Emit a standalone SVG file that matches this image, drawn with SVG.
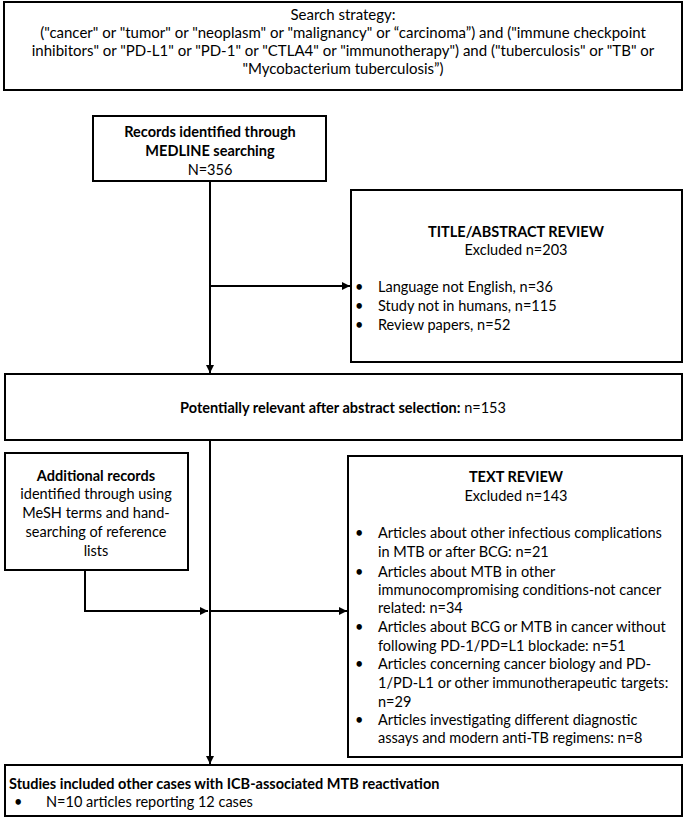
<svg xmlns="http://www.w3.org/2000/svg" width="685" height="818" viewBox="0 0 685 818">
<style>
.box{fill:#fff;stroke:#000;stroke-width:2}
text{font-family:Lato,"Liberation Sans",sans-serif;font-size:14.5px;fill:#000}
.s{font-size:15px}
.c{text-anchor:middle}
.b{font-weight:bold}
.ln{fill:none;stroke:#000;stroke-width:2}
</style>
<defs>
<marker id="ah" viewBox="0 0 10 10" refX="10" refY="5" markerWidth="9" markerHeight="8" markerUnits="userSpaceOnUse" orient="auto">
<path d="M0,0 L10,5 L0,10 z" fill="#000"/>
</marker>
</defs>
<rect width="685" height="818" fill="#fff"/>
<g id="connectors">
<line class="ln" x1="210" y1="181" x2="210" y2="373" marker-end="url(#ah)"/>
<line class="ln" x1="210" y1="286" x2="350" y2="286" marker-end="url(#ah)"/>
<line class="ln" x1="210" y1="440" x2="210" y2="764" marker-end="url(#ah)"/>
<polyline class="ln" points="85,570 85,611 208,611" marker-end="url(#ah)"/>
<line class="ln" x1="210" y1="611" x2="347" y2="611" marker-end="url(#ah)"/>
</g>
<g id="search">
<rect class="box" x="4" y="2" width="678" height="88"/>
<text class="c s" x="343" y="20">Search strategy:</text>
<text class="c s" x="343" y="38">("cancer" or "tumor" or "neoplasm" or "malignancy" or “carcinoma”) and ("immune checkpoint</text>
<text class="c s" x="343" y="56">inhibitors" or "PD-L1" or "PD-1" or "CTLA4" or "immunotherapy") and ("tuberculosis" or "TB" or</text>
<text class="c s" x="343" y="74">"Mycobacterium tuberculosis”)</text>
</g>
<g id="records">
<rect class="box" x="93" y="116" width="233" height="65"/>
<text class="c b" x="210" y="137">Records identified through</text>
<text class="c b" x="210" y="156">MEDLINE searching</text>
<text class="c" x="210" y="175">N=356</text>
</g>
<g id="title-review">
<rect class="box" x="351" y="190" width="331" height="172"/>
<text class="c b" x="516" y="237">TITLE/ABSTRACT REVIEW</text>
<text class="c" x="516" y="255">Excluded n=203</text>
<text x="355" y="292">•</text><text x="378" y="292">Language not English, n=36</text>
<text x="355" y="311">•</text><text x="378" y="311">Study not in humans, n=115</text>
<text x="355" y="330">•</text><text x="378" y="330">Review papers, n=52</text>
</g>
<g id="relevant">
<rect class="box" x="5" y="374" width="677" height="66"/>
<text class="c" x="343" y="413"><tspan class="b">Potentially relevant after abstract selection:</tspan> n=153</text>
</g>
<g id="additional">
<rect class="box" x="5" y="453" width="183" height="117"/>
<text class="c b" x="96" y="481">Additional records</text>
<text class="c" x="96" y="499">identified through using</text>
<text class="c" x="96" y="518">MeSH terms and hand-</text>
<text class="c" x="96" y="537">searching of reference</text>
<text class="c" x="96" y="556">lists</text>
</g>
<g id="text-review">
<rect class="box" x="348" y="456" width="334" height="301"/>
<text class="c b" x="516" y="482">TEXT REVIEW</text>
<text class="c" x="516" y="501">Excluded n=143</text>
<text x="355" y="538">•</text><text x="378" y="538">Articles about other infectious complications</text>
<text x="378" y="557">in MTB or after BCG: n=21</text>
<text x="355" y="577">•</text><text x="378" y="577">Articles about MTB in other</text>
<text x="378" y="595">immunocompromising conditions-not cancer</text>
<text x="378" y="613">related: n=34</text>
<text x="355" y="632">•</text><text x="378" y="632">Articles about BCG or MTB in cancer without</text>
<text x="378" y="651">following PD-1/PD=L1 blockade: n=51</text>
<text x="355" y="669">•</text><text x="378" y="669">Articles concerning cancer biology and PD-</text>
<text x="378" y="688">1/PD-L1 or other immunotherapeutic targets:</text>
<text x="378" y="707">n=29</text>
<text x="355" y="725">•</text><text x="378" y="725">Articles investigating different diagnostic</text>
<text x="378" y="743">assays and modern anti-TB regimens: n=8</text>
</g>
<g id="included">
<rect class="box" x="5" y="765" width="677" height="51"/>
<text class="b" x="9" y="789">Studies included other cases with ICB-associated MTB reactivation</text>
<text x="14" y="807">•</text><text x="46" y="807">N=10 articles reporting 12 cases</text>
</g>
</svg>
